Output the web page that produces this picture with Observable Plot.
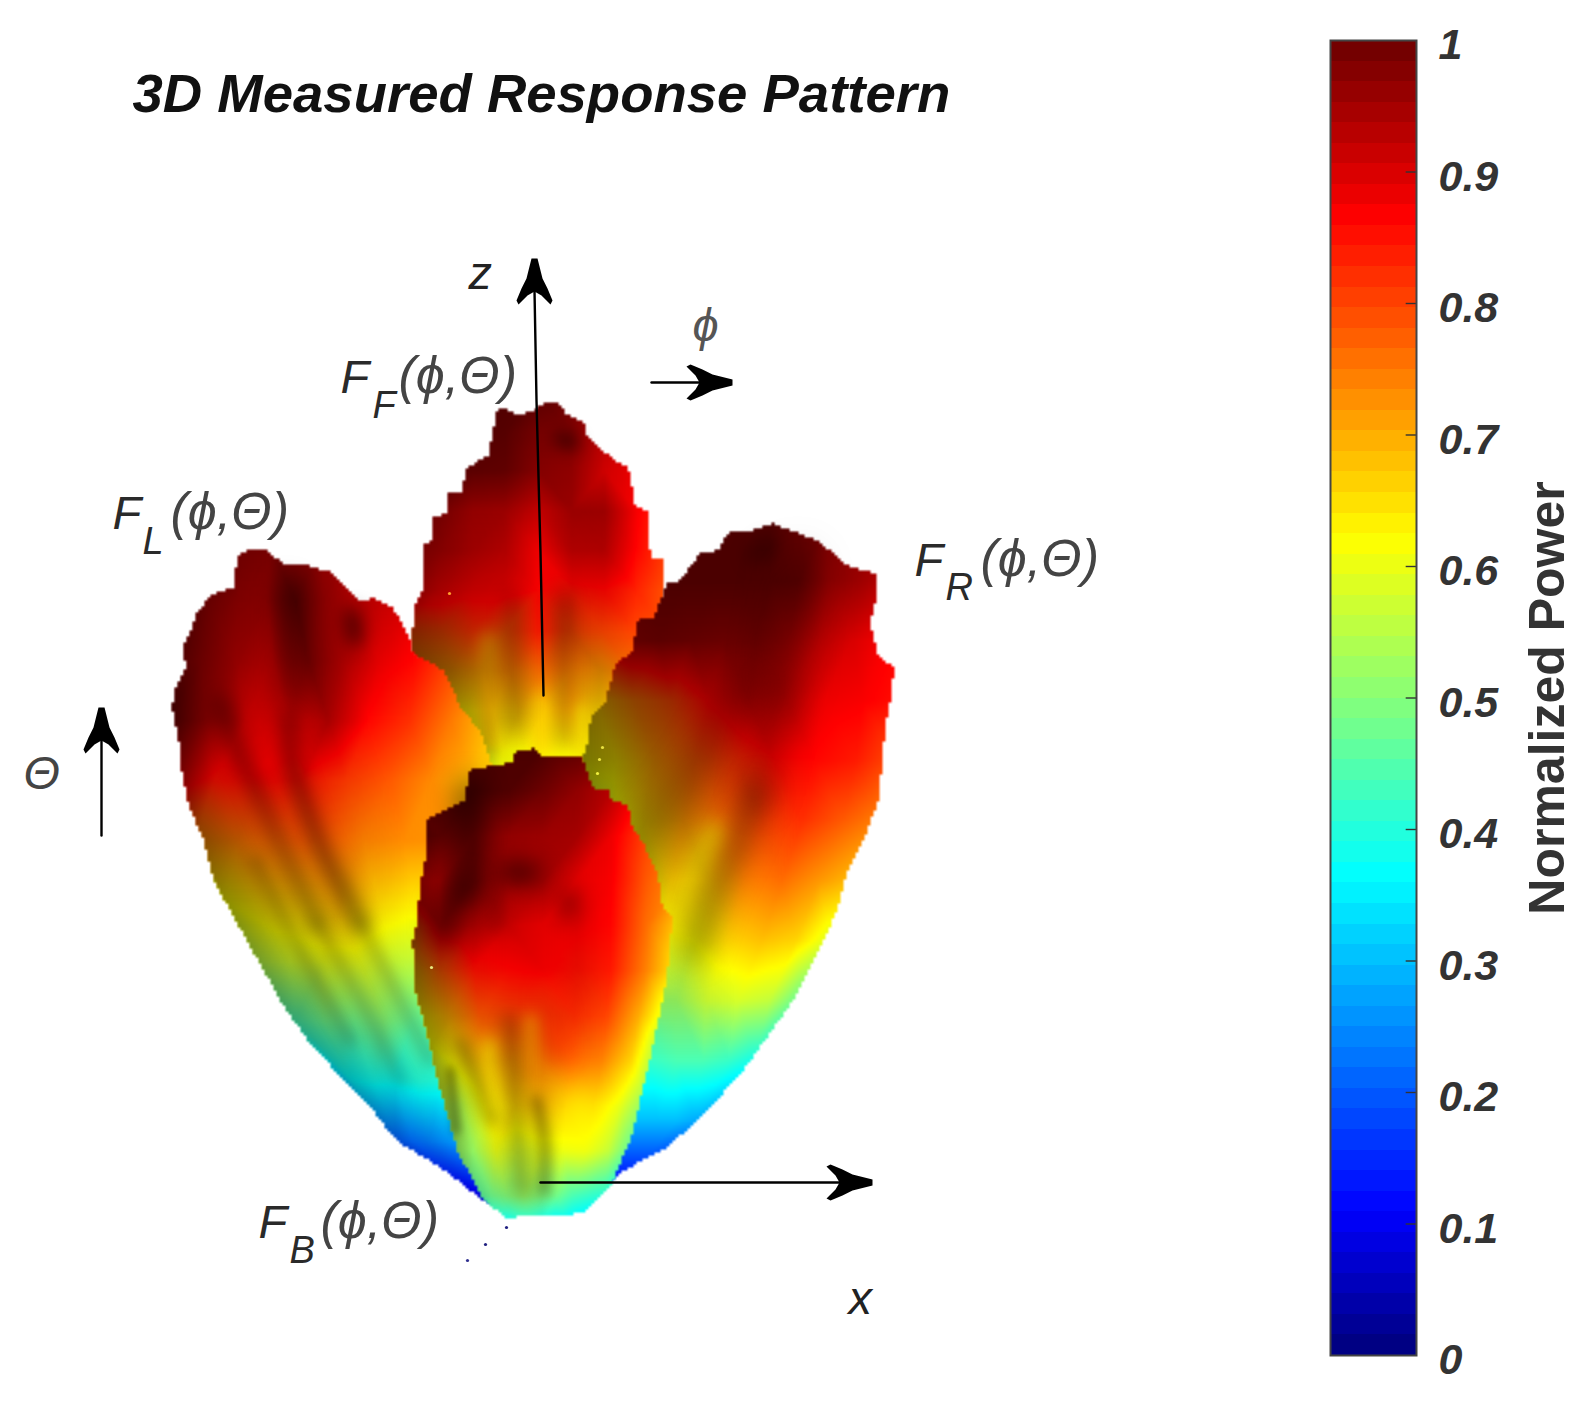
<!DOCTYPE html>
<html><head><meta charset="utf-8">
<script src="https://cdn.jsdelivr.net/npm/d3@7"></script>
<script src="https://cdn.jsdelivr.net/npm/@observablehq/plot@0.6"></script>
<style>html,body{margin:0;background:#fff}#c{position:relative;width:1593px;height:1401px;overflow:hidden}svg{display:block}</style>
</head><body><div id="c"></div>
<script>
// ---- Rear lobe F
const fRowY=[395,430,470,510,550,590,630,670,710,750,790];
const fRowL=[405,405,405,405,405,405,410,420,440,460,480];
const fRowR=[670,670,670,670,670,670,665,660,650,630,610];
const fPower=[
[1,1,1,1,1,.98,.96,.94,.92],
[1,1,1,1,.98,.97,.92,.9,.9],
[1,1,1,1,.97,.96,.9,.88,.88],
[.97,.96,.95,.95,.92,.95,.94,.87,.82],
[.95,.95,.93,.92,.88,.92,.93,.86,.8],
[.9,.9,.88,.88,.86,.85,.86,.83,.78],
[.8,.8,.82,.79,.84,.8,.8,.8,.78],
[.72,.72,.72,.74,.76,.74,.72,.75,.75],
[.64,.64,.66,.68,.68,.7,.66,.68,.7],
[.6,.6,.62,.62,.63,.63,.63,.63,.63],
[.6,.6,.6,.6,.6,.6,.6,.6,.6]];
const fShade=[
[.3,.3,.3,.25,.15,.1,.05,0,0],
[.3,.25,.25,.2,.1,.1,.05,0,0],
[.35,.3,.15,.1,.05,.05,.05,0,0],
[.35,.25,.1,.05,0,.05,.1,0,0],
[.35,.2,.15,.1,0,.1,.05,0,0],
[.45,.25,.2,.15,.05,.15,.1,0,0],
[.5,.4,.25,.25,.05,.2,.1,0,0],
[.55,.45,.3,.2,.05,.1,.2,.05,.2],
[.45,.35,.15,.15,0,0,.15,0,0],
[.3,.3,.1,.05,0,0,.05,0,0],
[0,0,0,0,0,0,0,0,0]];
const fOutline=[[497,408],[512,410],[517,415],[532,411],[543,403],[558,402],[565,413],[583,422],[587,437],[600,448],[612,458],[628,467],[632,487],[635,507],[647,510],[650,557],[662,558],[662,588],[660,650],[650,720],[620,790],[483,790],[467,747],[433,690],[425,668],[410,652],[415,603],[423,590],[423,543],[433,540],[433,517],[447,513],[448,493],[462,492],[465,468],[488,455],[495,420]];
const fDark=[
{s:.5,w:14,pts:[[560,438],[572,442]]},
{s:.22,w:16,pts:[[513,600],[513,660],[513,725]]},
{s:.26,w:16,pts:[[563,600],[563,660],[563,740]]}];
const fGlow=[
{p:.7,w:14,pts:[[488,640],[488,700],[488,745]]},
{p:.66,w:14,pts:[[540,700],[541,750]]},
{p:.64,w:12,pts:[[582,710],[580,750]]}];
// ---- Left lobe L
const lRowY=[545,600,660,720,780,840,900,960,1020,1080,1140,1200];
const lRowL=[190,180,165,165,170,195,225,255,295,350,395,480];
const lRowR=[400,410,450,490,520,530,530,530,530,530,530,530];
const lPower=[
[1,1,.98,.98,.97,.95,.93,.92,.9],
[1,.98,.97,.96,1,.96,.93,.92,.9],
[1,.97,.95,.93,.98,.93,.88,.86,.8],
[1,.96,.9,.88,.93,.86,.82,.75,.68],
[.9,.85,.86,.85,.81,.78,.73,.68,.64],
[.73,.75,.77,.78,.74,.73,.72,.7,.66],
[.62,.66,.68,.7,.66,.64,.63,.63,.62],
[.55,.58,.6,.6,.57,.56,.58,.6,.6],
[.44,.48,.48,.5,.47,.47,.5,.52,.55],
[.36,.38,.38,.4,.4,.4,.42,.44,.45],
[.2,.22,.24,.26,.28,.3,.32,.32,.3],
[.08,.1,.12,.14,.14,.14,.14,.14,.14]];
const lShade=[
[.3,.25,.15,.1,.1,.1,.1,.05,0],
[.35,.2,.1,.1,.2,.1,.05,0,0],
[.4,.25,.1,.05,.15,.1,.05,0,0],
[.5,.2,.1,.1,.1,0,0,0,0],
[.55,.2,.1,.1,.05,0,0,0,0],
[.5,.3,.1,.1,.05,0,0,0,0],
[.45,.3,.15,.15,.05,0,0,0,0],
[.4,.25,.2,.15,.05,0,0,0,0],
[.35,.25,.15,.15,.05,0,0,0,0],
[.3,.2,.15,.1,.05,0,0,0,0],
[.2,.1,.1,.05,0,0,0,0,0],
[.1,.1,.1,.05,0,0,0,0,0]];
const lOutline=[[237,555],[248,549],[267,549],[283,565],[303,564],[317,568],[332,572],[343,585],[357,600],[373,598],[393,608],[410,640],[412,652],[443,670],[462,710],[480,730],[490,760],[515,850],[525,1000],[515,1213],[483,1200],[440,1167],[396,1140],[370,1107],[309,1043],[280,1000],[237,923],[213,880],[203,837],[190,810],[182,777],[178,737],[172,710],[173,693],[185,667],[183,643],[190,633],[197,612],[210,595],[233,587]];
const lDark=[
{s:.36,w:22,pts:[[287,590],[287,630],[288,700]]},
{s:.42,w:16,pts:[[288,717],[293,770],[307,813],[320,847],[337,880],[360,923]]},
{s:.2,w:12,pts:[[360,923],[395,990],[430,1060]]},
{s:.36,w:16,pts:[[222,703],[237,750],[260,797],[283,850],[317,923]]},
{s:.18,w:12,pts:[[317,923],[360,1000],[400,1080]]},
{s:.6,w:16,pts:[[352,615],[355,638]]},
{s:.2,w:12,pts:[[255,860],[300,950],[350,1040]]}];
const lGlow=[];
// ---- Right lobe R
const rRowY=[520,580,640,700,760,820,880,940,1000,1060,1120,1170,1205];
const rRowL=[660,655,625,595,575,565,560,555,550,545,540,540,535];
const rRowR=[880,885,885,900,895,880,855,830,800,755,695,635,600];
const rPower=[
[1,1,1,1,1,1,.98,.96,.95],
[1,1,1,1,1,1,.96,.95,.93],
[.95,.97,.97,.97,.98,.95,.92,.9,.87],
[.68,.75,.8,.87,.92,.9,.88,.87,.85],
[.62,.64,.72,.78,.82,.86,.86,.84,.79],
[.56,.58,.66,.72,.76,.8,.82,.78,.74],
[.5,.54,.6,.67,.68,.74,.76,.72,.68],
[.48,.5,.54,.6,.62,.66,.68,.66,.58],
[.44,.46,.47,.48,.52,.57,.58,.56,.46],
[.36,.37,.38,.4,.42,.44,.44,.42,.38],
[.22,.23,.25,.27,.28,.3,.3,.3,.28],
[.1,.11,.12,.13,.14,.15,.15,.15,.15],
[.06,.06,.06,.06,.06,.06,.06,.06,.06]];
const rShade=[
[.3,.3,.3,.3,.3,.1,.1,.1,.05],
[.3,.3,.3,.3,.25,.15,.1,.05,0],
[.4,.35,.3,.25,.2,.15,.05,0,0],
[.5,.45,.4,.3,.2,.1,0,0,0],
[.55,.45,.4,.3,.2,.05,0,0,0],
[.4,.4,.35,.25,.1,.05,0,0,0],
[.3,.3,.3,.1,.1,0,0,0,0],
[.2,.2,.2,.05,.1,0,0,0,0],
[.1,.1,.15,.1,.1,.05,0,0,0],
[.05,.05,.05,0,0,0,0,0,0],
[0,0,0,0,0,0,0,0,0],
[0,0,0,0,0,0,0,0,0],
[0,0,0,0,0,0,0,0,0]];
const rOutline=[[667,582],[680,580],[700,552],[717,550],[728,532],[750,530],[772,523],[790,530],[817,540],[847,565],[875,573],[875,600],[870,623],[878,655],[893,667],[892,690],[885,723],[880,780],[878,800],[863,840],[847,870],[837,910],[813,960],[793,1000],[745,1067],[710,1107],[667,1147],[623,1170],[590,1198],[560,1198],[560,900],[582,757],[588,740],[590,717],[605,700],[615,665],[632,650],[638,618],[653,617]];
const rDark=[
{s:.34,w:16,pts:[[768,545],[755,555]]},
{s:.2,w:36,pts:[[797,570],[787,623],[780,690]]},
{s:.26,w:28,pts:[[780,690],[770,743],[757,793]]},
{s:.34,w:24,pts:[[757,793],[737,843],[717,887],[695,950]]},
{s:.2,w:28,pts:[[743,683],[693,770],[650,830],[630,900]]}];
const rGlow=[
{p:.64,w:18,pts:[[713,830],[690,880],[665,950]]},
{p:.58,w:16,pts:[[665,950],[648,1010]]}];
// ---- Front lobe B
const bRowY=[745,790,835,880,925,970,1015,1060,1105,1150,1195,1220];
const bRowL=[405,405,405,405,405,405,415,425,435,450,475,495];
const bRowR=[680,680,680,680,680,680,670,660,645,630,605,590];
const bPower=[
[1,1,1,1,1,1,.98,.95,.9],
[1,1,1,1,.98,.95,.93,.9,.85],
[1,1,.95,.95,.94,.93,.88,.8,.75],
[.9,.92,.95,.93,.92,.88,.87,.78,.72],
[.75,.9,.92,.9,.88,.87,.86,.76,.66],
[.66,.78,.85,.86,.87,.85,.84,.74,.62],
[.62,.7,.78,.8,.8,.82,.8,.7,.56],
[.58,.63,.7,.72,.74,.76,.74,.66,.5],
[.55,.55,.63,.66,.68,.68,.66,.6,.5],
[.52,.52,.6,.58,.6,.6,.6,.56,.46],
[.45,.48,.5,.52,.5,.48,.44,.42,.4],
[.38,.38,.4,.4,.38,.36,.36,.34,.32]];
const bShade=[
[.4,.4,.35,.3,.3,.15,0,0,0],
[.4,.4,.35,.25,.15,.1,0,0,0],
[.5,.15,.3,.1,.1,.1,0,0,0],
[.6,.2,.25,.1,.15,.05,0,0,0],
[.65,.3,.15,.05,.05,.1,0,0,0],
[.6,.35,.1,.05,.05,.1,0,0,0],
[.5,.3,.1,.1,.1,.05,0,0,0],
[.45,.2,.1,.15,.1,0,0,0,0],
[.45,.15,.05,.1,.1,0,0,0,0],
[.35,.05,.1,.1,.1,0,0,0,0],
[.2,.1,.1,.1,.1,0,0,0,0],
[0,0,0,0,0,0,0,0,0]];
const bOutline=[[515,752],[533,748],[542,755],[582,757],[592,787],[608,790],[612,802],[627,803],[632,827],[643,843],[657,873],[662,907],[672,917],[667,973],[662,1000],[649,1060],[632,1133],[610,1187],[584,1213],[505,1217],[483,1200],[457,1150],[440,1090],[427,1037],[415,990],[412,940],[415,930],[418,907],[420,883],[425,857],[427,818],[443,810],[465,800],[468,770],[512,762]];
const bDark=[
{s:.5,w:24,pts:[[468,790],[468,840],[463,887]]},
{s:.5,w:22,pts:[[463,887],[445,913],[445,935]]},
{s:.6,w:20,pts:[[507,872],[530,872]]},
{s:.4,w:18,pts:[[568,897],[568,910]]},
{s:.18,w:16,pts:[[497,895],[497,925]]},
{s:.28,w:12,pts:[[461,1043],[475,1080],[490,1120]]},
{s:.26,w:14,pts:[[509,1020],[513,1080],[518,1150],[522,1190]]},
{s:.34,w:11,pts:[[536,1100],[544,1140],[544,1190]]},
{s:.36,w:8,pts:[[450,1070],[456,1130]]}];
const bGlow=[
{p:.64,w:14,pts:[[488,1045],[490,1085],[497,1125]]},
{p:.62,w:26,pts:[[575,1100],[580,1140]]},
{p:.83,w:20,pts:[[553,990],[556,1050]]},
{p:.72,w:12,pts:[[530,1020],[530,1070]]}];
// ---- Annotations
const arrowShafts=[
 {id:"z",x:[543,540,536,534],y:[695,552,400,290]},
 {id:"phi",x:[651,706],y:[382,382]},
 {id:"x",x:[540,846],y:[1182,1182]},
 {id:"theta",x:[101,101],y:[835,735]}];
const arrowTips=[{x:534,y:258,a:0},{x:732,y:382,a:90},{x:872,y:1182,a:90},{x:101,y:707,a:0}];
const specks=[{x:449,y:593,f:"#ffa030"},{x:602,y:747,f:"#e8e040"},{x:599,y:759,f:"#e8e040"},{x:597,y:773,f:"#f0f040"},{x:431,y:967,f:"#e8e880"},{x:506,y:1227,f:"#202080"},{x:485,y:1244,f:"#202080"},{x:467,y:1260,f:"#303090"}];
const labels=[
 {t:"F",x:340,y:392,s:47,f:"#2a2a2a"},{t:"F",x:372,y:417,s:38,f:"#2a2a2a"},{t:"(ϕ,Θ)",x:398,y:392,s:52,f:"#444"},
 {t:"F",x:112,y:528,s:47,f:"#2a2a2a"},{t:"L",x:142,y:553,s:38,f:"#2a2a2a"},{t:"(ϕ,Θ)",x:170,y:528,s:52,f:"#444"},
 {t:"F",x:914,y:575,s:47,f:"#2a2a2a"},{t:"R",x:945,y:599,s:38,f:"#2a2a2a"},{t:"(ϕ,Θ)",x:980,y:575,s:52,f:"#444"},
 {t:"F",x:258,y:1237,s:47,f:"#2a2a2a"},{t:"B",x:289,y:1262,s:38,f:"#2a2a2a"},{t:"(ϕ,Θ)",x:320,y:1237,s:52,f:"#444"},
 {t:"Θ",x:23,y:788,s:47,f:"#444"},{t:"ϕ",x:692,y:340,s:47,f:"#555"},{t:"z",x:468,y:288,s:47,f:"#222"},{t:"x",x:848,y:1313,s:47,f:"#222"}];
const titleText=["3D Measured Response Pattern"];
const barTicks=[0,.1,.2,.3,.4,.5,.6,.7,.8,.9,1];
const barLevels=d3.range(0,128);
const jetDomain=[0,.11,.365,.62,.865,1];
const jetRange=["#00007a","#0000ff","#00ffff","#ffff00","#ff0000","#6b0000"];

const colorScale={type:"linear",domain:jetDomain,range:jetRange,interpolate:"rgb",clamp:true};
function nodes(Y,L,R,P,S){
  const out=[];
  Y.forEach((y,i)=>P[i].forEach((p,j)=>out.push({x:L[i]+(R[i]-L[i])*j/(P[i].length-1),y,p,s:S[i][j]})));
  return out;
}
function masked(poly){
  const base=Plot.interpolatorBarycentric();
  return (index,w,h,X,Y,V)=>{
    const o=base(index,w,h,X,Y,V),kx=w/1593,ky=h/1401,pg=poly.map(([a,b])=>[a*kx,b*ky]);
    for(let j=0,k=0;j<h;++j)for(let i=0;i<w;++i,++k){if(!d3.polygonContains(pg,[i+.5,j+.5]))o[k]=NaN;}
    return o;
  };
}
const blur=b=>function(i,s,v,d,c,next){const g=next(i,s,v,d,c);g.style.filter=`blur(${b}px)`;return g;};
const box={x:"x",y:"y",x1:0,x2:1593,y1:0,y2:1401,pixelSize:3};
const ribbon=st=>({data:st.pts.map(([x,y])=>({x,y})),opts:{x:"x",y:"y",curve:"catmull-rom",strokeWidth:st.w,render:blur(Math.max(4.5,st.w*.55))}});
function lobe(Y,L,R,P,S,poly,glow,dark){
  const d=nodes(Y,L,R,P,S),m=masked(poly);
  return [Plot.raster(d,{...box,fill:"p",interpolate:m}),
          ...glow.map(g=>{const r=ribbon(g);return Plot.line(r.data,{...r.opts,stroke:()=>g.p,strokeOpacity:.8});}),
          Plot.raster(d,{...box,fill:"black",fillOpacity:"s",interpolate:m}),
          ...dark.map(g=>{const r=ribbon(g);return Plot.line(r.data,{...r.opts,stroke:"black",strokeOpacity:g.s});})];
}
const head={draw(c,size){const u=Math.sqrt(size/Math.PI)/20;const p=[[-3,0],[3,0],[8,20],[13,30],[18,42],[16,46],[7,37],[0,33],[-7,37],[-16,46],[-18,42],[-13,30],[-8,20]];
  p.forEach(([a,b],i)=>i?c.lineTo(a*u,b*u):c.moveTo(a*u,b*u));c.closePath();}};
const font='"Liberation Sans",Arial,sans-serif';
const main=Plot.plot({width:1593,height:1401,margin:0,style:{background:"transparent"},
  x:{domain:[0,1593],range:[0,1593],axis:null},y:{domain:[0,1401],range:[0,1401],axis:null},color:colorScale,
  marks:[
   ...lobe(fRowY,fRowL,fRowR,fPower,fShade,fOutline,fGlow,fDark),
   ...lobe(lRowY,lRowL,lRowR,lPower,lShade,lOutline,lGlow,lDark),
   ...lobe(rRowY,rRowL,rRowR,rPower,rShade,rOutline,rGlow,rDark),
   Plot.line(arrowShafts[0].x.map((x,i)=>({x,y:arrowShafts[0].y[i]})),{x:"x",y:"y",stroke:"black",strokeWidth:2.4}),
   ...lobe(bRowY,bRowL,bRowR,bPower,bShade,bOutline,bGlow,bDark),
   ...arrowShafts.slice(1).map(a=>Plot.line(a.x.map((x,i)=>({x,y:a.y[i]})),{x:"x",y:"y",stroke:"black",strokeWidth:2.4})),
   Plot.dot(arrowTips,{x:"x",y:"y",r:20,symbol:head,fill:"black",stroke:"none",rotate:"a"}),
   Plot.dot(specks,{x:"x",y:"y",r:1.6,fill:"f",stroke:"none"}),
   Plot.text(labels,{x:"x",y:"y",text:"t",fontSize:"s",fill:"f",textAnchor:"start",lineAnchor:"bottom",fontStyle:"italic",fontFamily:font}),
   Plot.text(titleText,{x:132,y:111,textAnchor:"start",lineAnchor:"bottom",fontSize:54.5,fontWeight:"bold",fontStyle:"italic",fontFamily:font,fill:"#111"})
  ]});
const bar=Plot.plot({width:263,height:1401,marginLeft:0,marginRight:177,marginTop:40,marginBottom:46,style:{background:"transparent"},
  x:{domain:[0,1],axis:null},y:{domain:[0,1],axis:null},color:colorScale,
  marks:[
   Plot.rect(barLevels,{x1:0,x2:1,y1:d=>d/128,y2:d=>(d+1)/128,fill:d=>Math.floor(d/2)*2/128+1/128,shapeRendering:"crispEdges",inset:0}),
   Plot.ruleY(barTicks.slice(1,-1),{x1:.88,x2:1,stroke:"#333",strokeWidth:1.4}),
   Plot.frame({stroke:"#444",strokeWidth:2}),
   Plot.axisY(barTicks,{anchor:"right",tickSize:0,tickPadding:22,dy:5,fontSize:43,fontWeight:"bold",fontStyle:"italic",fontFamily:font,fill:"#333",label:null,tickFormat:d=>String(d),color:"#333"}),
   Plot.text(["Normalized Power"],{frameAnchor:"right",textAnchor:"middle",rotate:-90,dx:131,fontSize:50,fontFamily:font,fontWeight:"bold",fill:"#333"})
  ]});
bar.style.position="absolute";bar.style.left="1330px";bar.style.top="0";bar.style.overflow="visible";
main.style.position="absolute";main.style.left="0";main.style.top="0";
const c=document.getElementById("c");c.append(main,bar);
</script></body></html>
